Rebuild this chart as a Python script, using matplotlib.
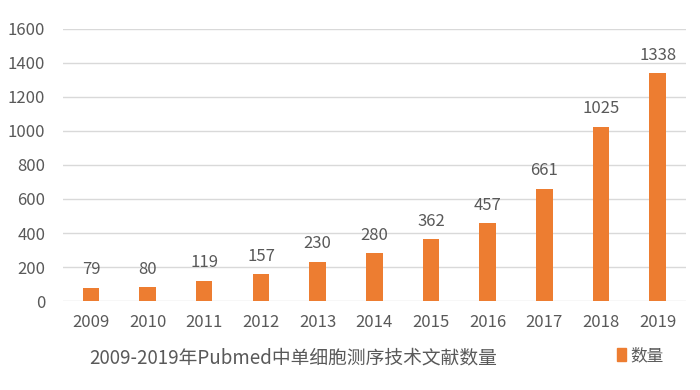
import matplotlib.pyplot as plt
from matplotlib.patches import Patch

plt.rcParams['font.family'] = ['Noto Sans CJK SC', 'DejaVu Sans']

# 年份与文献数量
years = ['2009', '2010', '2011', '2012', '2013', '2014',
         '2015', '2016', '2017', '2018', '2019']
counts = [79, 80, 119, 157, 230, 280, 362, 457, 661, 1025, 1338]
y_ticks = [0, 200, 400, 600, 800, 1000, 1200, 1400, 1600]

bar_color = '#ED7D31'
text_color = '#595959'

fig = plt.figure(figsize=(7, 3.9), dpi=100)
ax = fig.add_axes([0.0894, 0.228, 0.8906, 0.698])

x = range(len(years))
bars = ax.bar(x, counts, width=0.29, color=bar_color, zorder=3)

# 数据标签
for xi, v in zip(x, counts):
    ax.annotate(str(v), (xi, v), xytext=(0, 7), textcoords='offset points',
                ha='center', va='bottom', fontsize=12, color=text_color)

ax.set_xlim(-0.5, len(years) - 0.5)
ax.set_ylim(0, 1600)
ax.set_yticks(y_ticks)
ax.set_xticks(list(x))
ax.set_xticklabels(years)
ax.tick_params(axis='both', length=0, colors=text_color, labelsize=12)
ax.tick_params(axis='y', pad=12.5)
ax.tick_params(axis='x', pad=9)
ax.grid(axis='y', color='#D9D9D9', linewidth=1, zorder=0)
for s in ax.spines.values():
    s.set_visible(False)

# 底部标题
fig.text(0.419, 0.083, '2009-2019年Pubmed中单细胞测序技术文献数量',
         ha='center', va='center', fontsize=13.5, color=text_color)

# 图例
fig.legend(handles=[Patch(color=bar_color)], labels=['数量'],
           loc='center', bbox_to_anchor=(0.915, 0.088), frameon=False,
           fontsize=12, labelcolor=text_color, handlelength=0.5,
           handleheight=0.8, handletextpad=0.3)

fig.savefig('out.png', dpi=100)
